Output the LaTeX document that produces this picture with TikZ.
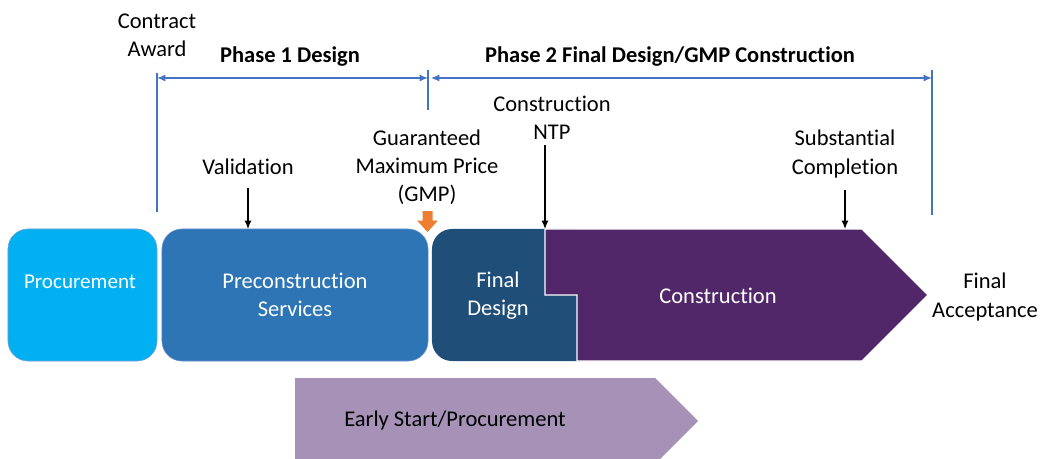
\documentclass[tikz,border=0pt]{standalone}
\usepackage{fontspec}
\setmainfont{Carlito}[Ligatures=NoCommon]
\usetikzlibrary{arrows.meta}
\definecolor{procblue}{HTML}{00B0F0}
\definecolor{preblue}{HTML}{2E75B6}
\definecolor{fdblue}{HTML}{1F4E79}
\definecolor{conpurple}{HTML}{52276A}
\definecolor{earlypurple}{HTML}{A691B7}
\definecolor{lineblue}{HTML}{4472C4}
\definecolor{gmporange}{HTML}{ED7D31}

\begin{document}
\begin{tikzpicture}[x=0.025cm,y=-0.025cm,
  every node/.style={font=\fontsize{16}{20}\selectfont, align=center},
  box/.style={rounded corners=0.5cm, minimum height=3.3cm, text=white, inner sep=0pt},
  phase/.style={draw=lineblue, line width=1pt, {Latex[length=6pt,width=5pt]}-{Latex[length=6pt,width=5pt]}},
  tick/.style={draw=lineblue, line width=1pt},
  milestone/.style={draw=black, line width=0.8pt, -{Latex[length=6pt,width=5pt]}}]
  \useasboundingbox (0,0) rectangle (1044,459);

  % boxes
  \node[box, fill=procblue, draw=lineblue!70, minimum width=3.725cm] (proc) at (82.5,295) {};
  \node[text=white, font=\fontsize{15}{19}\selectfont] (proctext) at (80,282) {Procurement};
  \node[box, fill=preblue, draw=lineblue!80, minimum width=6.65cm] (precon) at (295,295) {Preconstruction\\Services};
  \node[box, fill=fdblue, minimum width=4.2cm] (fd) at (516,295) {};
  \draw[fill=conpurple, draw=white, line width=0.8pt] (545,229) -- (862,229) -- (928,295) -- (862,361) -- (577,361) -- (577,295) -- (545,295) -- cycle;
  \node[text=white] (fdtext) at (498,296) {Final\\Design};
  \node[text=white] (con) at (718,296) {Construction};
  \fill[earlypurple] (295,378) -- (655,378) -- (698,421) -- (660,459) -- (295,459) -- cycle;
  \node (early) at (455,420) {Early Start/Procurement};

  % phases
  \coordinate (ca) at (157,78);
  \coordinate (gmpx) at (428,78);
  \coordinate (fa) at (932,78);
  \draw[tick] (157,73) -- (157,212);
  \draw[tick] (428,70) -- (428,110);
  \draw[tick] (932,70) -- (932,215);
  \draw[phase] (ca) -- (gmpx);
  \draw[phase] ([xshift=2pt]gmpx) -- (fa);
  \node[font=\fontsize{16}{20}\selectfont\bfseries] (ph1) at (290,57) {Phase 1 Design};
  \node[font=\fontsize{16}{20}\selectfont\bfseries] (ph2) at (670,57) {Phase 2 Final Design/GMP Construction};

  % milestones
  \node (award) at (157,35) {Contract\\Award};
  \node (val) at (248,167) {Validation};
  \node (gmp) at (427,167) {Guaranteed\\Maximum Price\\(GMP)};
  \node (ntp) at (552,118) {Construction\\NTP};
  \node (sub) at (845,154) {Substantial\\Completion};
  \node (acc) at (985,297) {Final\\Acceptance};
  \coordinate (valend) at (248,229);
  \coordinate (ntpend) at (545,229);
  \coordinate (subend) at (845,229);
  \draw[milestone] (248,188) -- (valend);
  \draw[milestone] (545,145) -- (ntpend);
  \draw[milestone] (845,190) -- (subend);
  \fill[gmporange] (422.5,211) -- (432.5,211) -- (432.5,220.5) -- (438,220.5) -- (427.5,232) -- (417,220.5) -- (422.5,220.5) -- cycle;
\end{tikzpicture}
\end{document}
